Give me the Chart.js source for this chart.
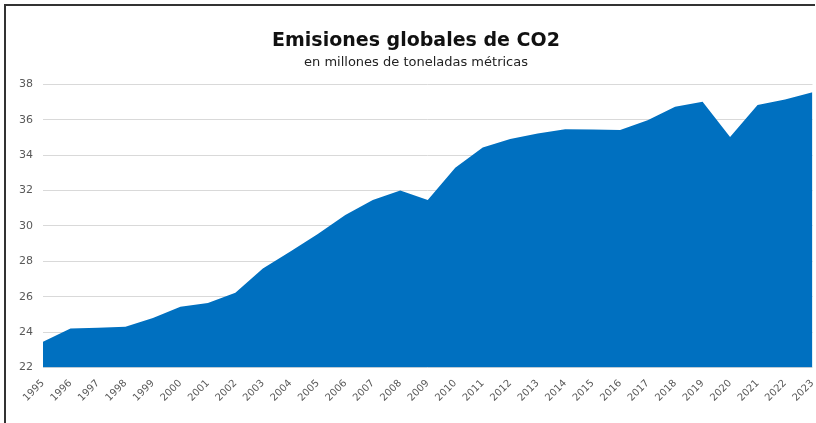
<!DOCTYPE html>
<html>
<head>
<meta charset="utf-8">
<script src="https://cdn.jsdelivr.net/npm/chart.js@4"></script>
<style>
    html, body { margin: 0; padding: 0; background: #fff; overflow: hidden; }
    .frame {
        position: absolute;
        left: 4px; top: 4px;
        width: 811px; height: 419px;
        border-top: 2px solid #333;
        border-left: 2px solid #333;
        box-sizing: border-box;
    }
    .chart-box {
        position: absolute;
        left: 0; top: 0;
        width: 823px; height: 423px;
    }
</style>
</head>
<body>
<div class="frame"></div>
<div class="chart-box"><canvas id="co2Chart"></canvas></div>
<script>
// Data
const years = ['1995', '1996', '1997', '1998', '1999', '2000', '2001', '2002', '2003', '2004',
    '2005', '2006', '2007', '2008', '2009', '2010', '2011', '2012', '2013', '2014',
    '2015', '2016', '2017', '2018', '2019', '2020', '2021', '2022', '2023'];
const emissions = [23.45, 24.2, 24.25, 24.3, 24.8, 25.43, 25.64, 26.22, 27.6, 28.55,
    29.55, 30.62, 31.47, 32.0, 31.47, 33.29, 34.43, 34.91, 35.22, 35.47,
    35.45, 35.43, 35.98, 36.73, 37.02, 35.03, 36.83, 37.15, 37.55];
const yTicks = [22, 24, 26, 28, 30, 32, 34, 36, 38];

const titleText = 'Emisiones globales de CO2';
const subtitleText = 'en millones de toneladas métricas';

let co2Chart = null;

// Build the area chart
function initializeChart() {
    const ctx = document.getElementById('co2Chart').getContext('2d');
    co2Chart = new Chart(ctx, {
        type: 'line',
        data: {
            labels: years,
            datasets: [{
                data: emissions,
                borderColor: '#0070c0',
                backgroundColor: '#0070c0',
                borderWidth: 0,
                pointRadius: 0,
                tension: 0,
                fill: 'start'
            }]
        },
        options: {
            responsive: true,
            maintainAspectRatio: false,
            animation: false,
            layout: {
                padding: { left: 9, right: 0, top: 30, bottom: 17 }
            },
            plugins: {
                legend: { display: false },
                tooltip: { enabled: false },
                title: {
                    display: true,
                    text: titleText,
                    color: '#111',
                    font: { family: 'DejaVu Sans', size: 19, weight: 'bold' },
                    padding: { top: 0, bottom: 2 }
                },
                subtitle: {
                    display: true,
                    text: subtitleText,
                    color: '#222',
                    font: { family: 'DejaVu Sans', size: 13 },
                    padding: { top: 0, bottom: 14 }
                }
            },
            scales: {
                x: {
                    offset: false,
                    grid: { display: false },
                    border: { display: false },
                    ticks: {
                        color: '#595959',
                        font: { family: 'DejaVu Sans', size: 10 },
                        autoSkip: false,
                        minRotation: 45,
                        maxRotation: 45,
                        padding: 2
                    }
                },
                y: {
                    min: 22,
                    max: 38,
                    afterBuildTicks: (axis) => {
                        axis.ticks = yTicks.map(v => ({ value: v }));
                    },
                    grid: { color: '#d9d9d9', lineWidth: 1, drawTicks: false },
                    border: { display: false },
                    ticks: {
                        color: '#595959',
                        font: { family: 'DejaVu Sans', size: 11 },
                        padding: 10
                    }
                }
            }
        }
    });
}

initializeChart();
</script>
</body>
</html>
